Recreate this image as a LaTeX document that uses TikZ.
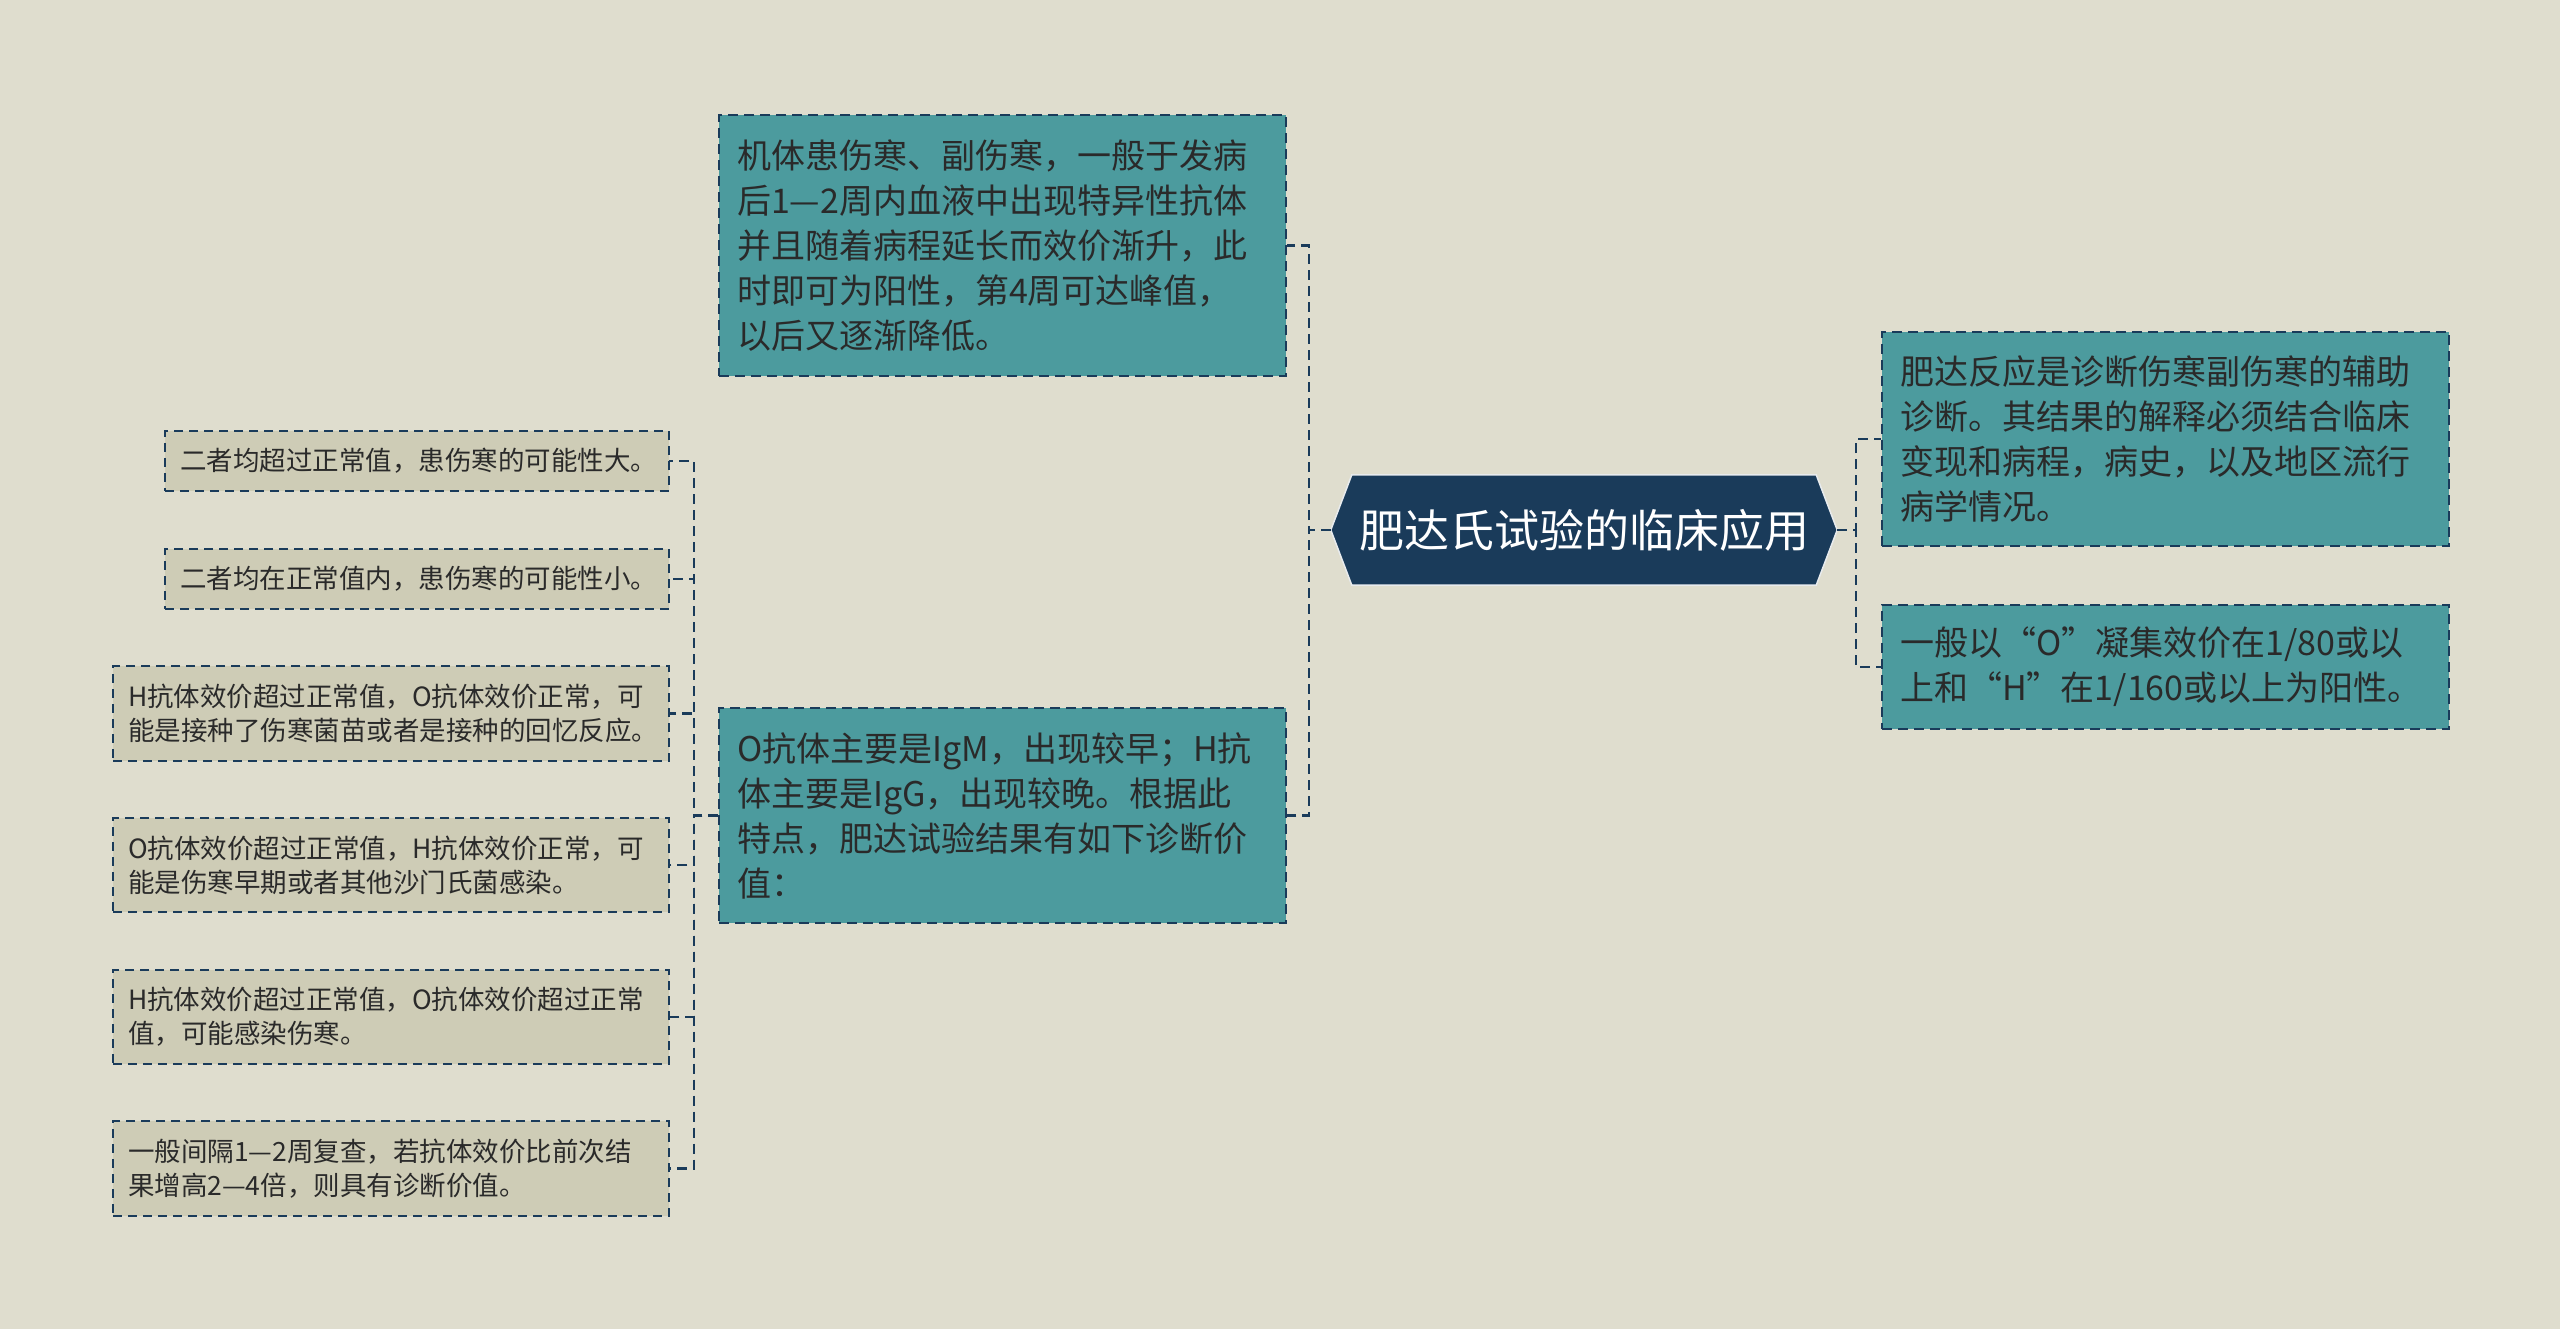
\documentclass[tikz,border=0pt]{standalone}
\usepackage{fontspec}
\usepackage{xcolor}
\usepackage{tikz}
\usetikzlibrary{positioning,backgrounds,calc}
\newfontfamily\cjk{Noto Sans CJK SC}

\definecolor{bgc}{RGB}{223,221,206}
\definecolor{navy}{RGB}{26,59,90}
\definecolor{tealc}{RGB}{76,155,158}
\definecolor{sandc}{RGB}{206,204,182}
\definecolor{txt}{RGB}{42,42,42}

\tikzset{
  link/.style={draw=navy, line width=2.5pt, dash pattern=on 10pt off 6pt},
  tealbox/.style={draw=navy, line width=2.2pt, dash pattern=on 10pt off 6pt, fill=tealc, text=txt,
    font=\cjk\fontsize{34}{45}\selectfont, align=left, inner xsep=18pt, inner ysep=0pt,
    text width=531pt, anchor=north west},
  sandbox/.style={draw=navy, line width=2pt, dash pattern=on 9pt off 6pt, fill=sandc, text=txt,
    font=\cjk\fontsize{26.5}{34}\selectfont, align=left, inner xsep=15pt, inner ysep=0pt, outer sep=0pt},
  rootnode/.style={text=white, font=\cjk\fontsize{45}{54}\selectfont,
    minimum width=506pt, minimum height=110pt, inner sep=0pt},
}

\begin{document}
\begin{tikzpicture}[x=1pt, y=-1pt]
  \useasboundingbox (0,0) rectangle (2560,1329);

  % centre
  \node[rootnode] (root) at (1584,530) {肥达氏试验的临床应用};

  % middle column
  \node[tealbox, minimum height=261pt] (b1) at (718,114)
    {机体患伤寒、副伤寒，一般于发病\\后1—2周内血液中出现特异性抗体\\并且随着病程延长而效价渐升，此\\时即可为阳性，第4周可达峰值，\\以后又逐渐降低。};
  \node[tealbox, minimum height=215pt] (b2) at (718,707)
    {O抗体主要是IgM，出现较早；H抗\\体主要是IgG，出现较晚。根据此\\特点，肥达试验结果有如下诊断价\\值：};

  % right column
  \node[tealbox, minimum height=214pt] (r1) at (1881,331)
    {肥达反应是诊断伤寒副伤寒的辅助\\诊断。其结果的解释必须结合临床\\变现和病程，病史，以及地区流行\\病学情况。};
  \node[tealbox, minimum height=124pt] (r2) at (1881,604)
    {一般以“O”凝集效价在1/80或以\\上和“H”在1/160或以上为阳性。};

  % left column
  \node[sandbox, text width=474pt, minimum height=60pt, anchor=north east] (l1) at (669,431)
    {二者均超过正常值，患伤寒的可能性大。};
  \node[sandbox, text width=474pt, minimum height=60pt, below=58pt of l1.south east, anchor=north east] (l2)
    {二者均在正常值内，患伤寒的可能性小。};
  \node[sandbox, text width=526pt, minimum height=95pt, below=57pt of l2.south east, anchor=north east] (l3)
    {H抗体效价超过正常值，O抗体效价正常，可\\能是接种了伤寒菌苗或者是接种的回忆反应。};
  \node[sandbox, text width=526pt, minimum height=94pt, below=57pt of l3.south east, anchor=north east] (l4)
    {O抗体效价超过正常值，H抗体效价正常，可\\能是伤寒早期或者其他沙门氏菌感染。};
  \node[sandbox, text width=526pt, minimum height=94pt, below=58pt of l4.south east, anchor=north east] (l5)
    {H抗体效价超过正常值，O抗体效价超过正常\\值，可能感染伤寒。};
  \node[sandbox, text width=526pt, minimum height=95pt, below=57pt of l5.south east, anchor=north east] (l6)
    {一般间隔1—2周复查，若抗体效价比前次结\\果增高2—4倍，则具有诊断价值。};

  \begin{scope}[on background layer]
    \fill[bgc] (0,0) rectangle (2560,1329);
    \filldraw[fill=navy, draw=white!90!navy, line width=1.5pt]
      (root.west) -- ([xshift=21pt]root.north west) -- ([xshift=-21pt]root.north east)
      -- (root.east) -- ([xshift=-21pt]root.south east) -- ([xshift=21pt]root.south west) -- cycle;
  \end{scope}

  % connectors
  \draw[link] (root.west) -- ++(-22,0) |- (b1.east);
  \draw[link] (root.west) -- ++(-22,0) |- (b2.east);
  \draw[link] (root.east) -- ++(19,0) |- (r1.west);
  \draw[link] (root.east) -- ++(19,0) |- (r2.west);
  \foreach \n in {l1,l2,l3,l4,l5,l6}
    \draw[link] (b2.west) -- ++(-24,0) |- (\n.east);
\end{tikzpicture}
\end{document}
